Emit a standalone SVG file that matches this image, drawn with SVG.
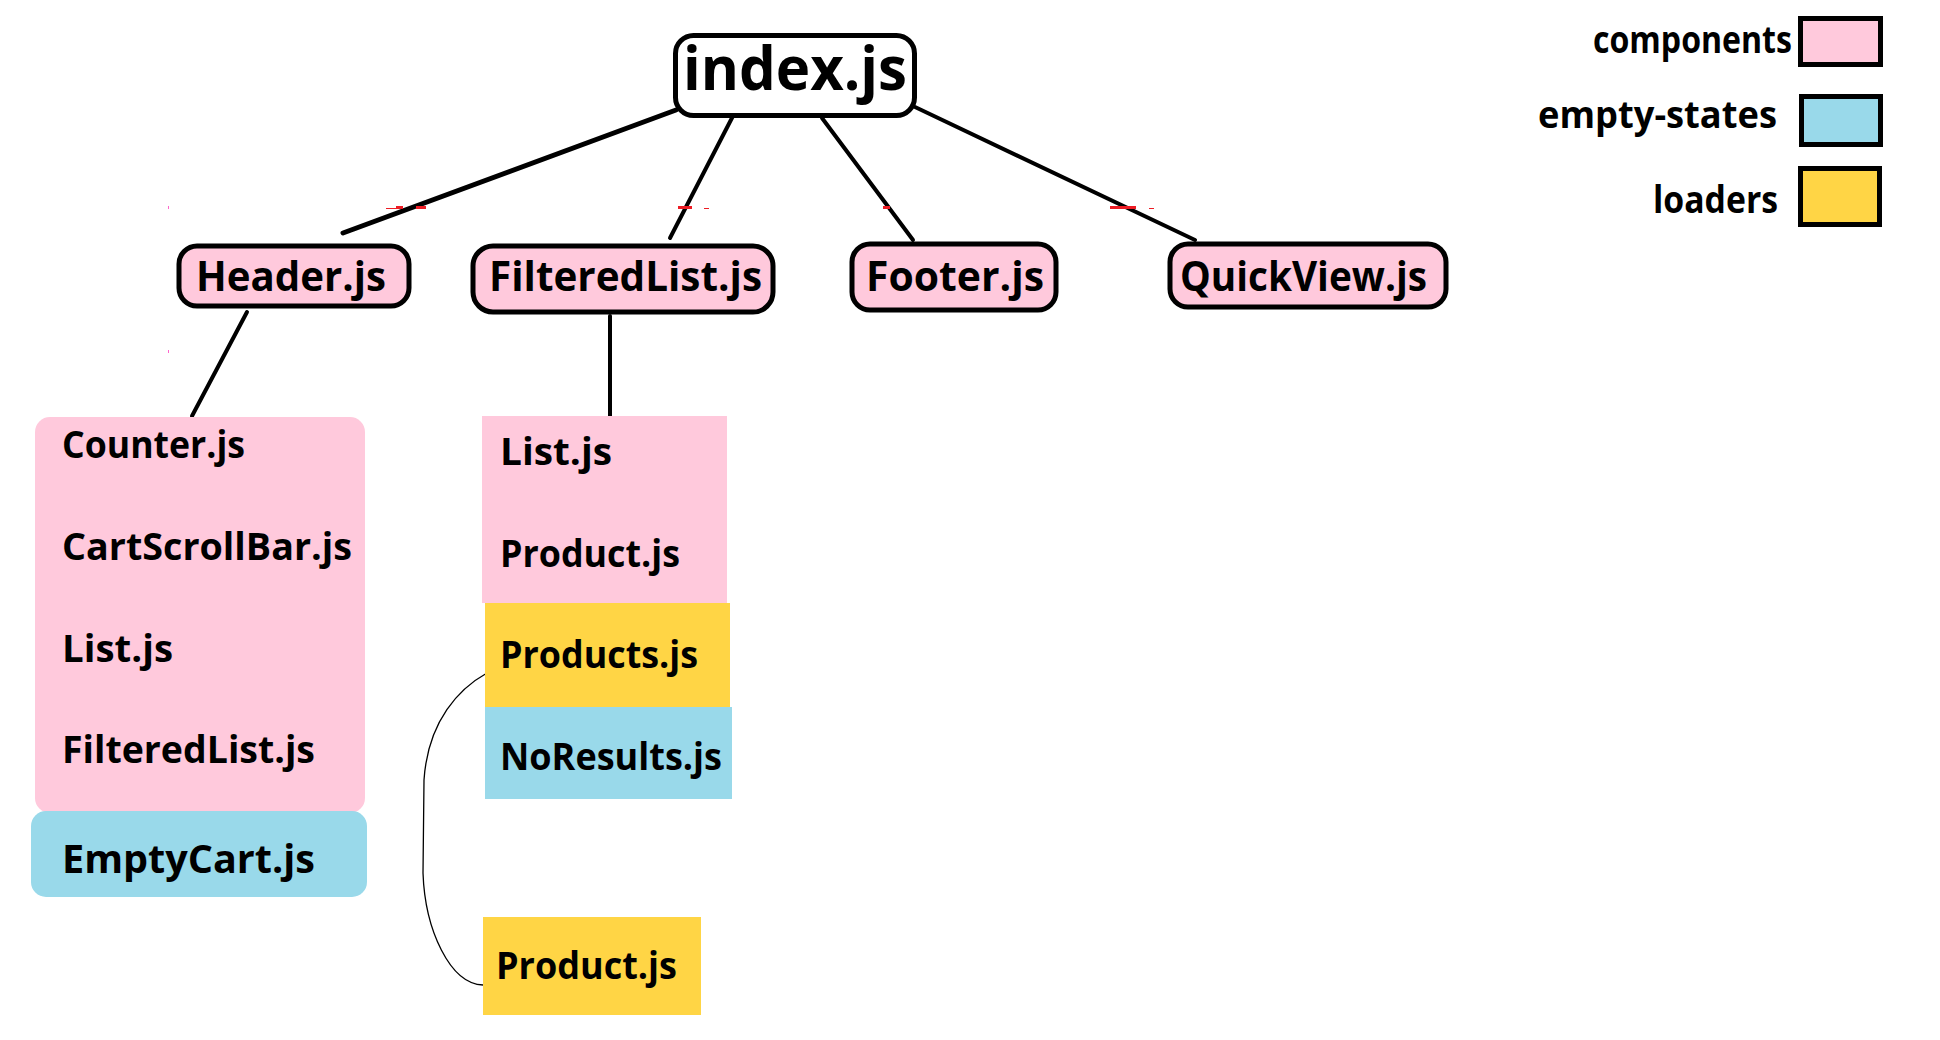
<svg xmlns="http://www.w3.org/2000/svg" width="1940" height="1040" viewBox="0 0 1940 1040">
<style>
  text { font-family: "Open Sans", "Noto Sans", "DejaVu Sans", sans-serif; font-weight: 700; fill: #000; }
  .box { stroke: #000; stroke-width: 5; }
  .pink { fill: #FFC9DC; }
  .blue { fill: #99D9EA; }
  .yellow { fill: #FFD545; }
  .conn { stroke: #000; stroke-width: 4; stroke-linecap: round; fill: none; }
  .thin { stroke: #000; stroke-width: 1.3; fill: none; }
  .t42 { font-size: 41px; }
  .t38 { font-size: 38px; }
  .leg { font-size: 37px; }
  .red { fill: #ED1C24; }
  .mag { fill: #FF66CC; }
</style>
<rect width="1940" height="1040" fill="#fff"/>

<g id="connectors">
  <line class="conn" x1="676" y1="110" x2="343" y2="233" style="stroke-width:5"/>
  <line class="conn" x1="734" y1="114" x2="670" y2="238"/>
  <line class="conn" x1="822" y1="118" x2="913" y2="240"/>
  <line class="conn" x1="915" y1="107" x2="1195" y2="240"/>
  <line class="conn" x1="247" y1="312" x2="192" y2="416"/>
  <line class="conn" x1="610" y1="316" x2="610" y2="418"/>
  <path class="thin" d="M 497 667 L 487 673 C 460 688 428 720 424 780 L 423 873 C 425 930 450 984 483 985"/>
</g>

<g id="index-js">
  <rect class="box" x="675.5" y="35.5" width="239" height="80" rx="18" fill="#fff"/>
  <text x="683" y="90" font-size="60" textLength="224" lengthAdjust="spacingAndGlyphs">index.js</text>
</g>

<g id="header-js">
  <rect class="box pink" x="179" y="246" width="230" height="60" rx="18"/>
  <text class="t42" x="196" y="291" textLength="190" lengthAdjust="spacingAndGlyphs">Header.js</text>
</g>

<g id="filteredlist-js">
  <rect class="box pink" x="473" y="246" width="300" height="66" rx="20"/>
  <text class="t42" x="489" y="291" textLength="273" lengthAdjust="spacingAndGlyphs">FilteredList.js</text>
</g>

<g id="footer-js">
  <rect class="box pink" x="852" y="244" width="204" height="66" rx="18"/>
  <text class="t42" x="866" y="291" textLength="178" lengthAdjust="spacingAndGlyphs">Footer.js</text>
</g>

<g id="quickview-js">
  <rect class="box pink" x="1170" y="244" width="276" height="63" rx="18"/>
  <text class="t42" x="1180" y="291" textLength="247" lengthAdjust="spacingAndGlyphs">QuickView.js</text>
</g>

<g id="header-children">
  <rect class="pink" x="35" y="417" width="330" height="396" rx="15"/>
  <text class="t38" x="62" y="458" textLength="183" lengthAdjust="spacingAndGlyphs">Counter.js</text>
  <text class="t38" x="62" y="560" textLength="290" lengthAdjust="spacingAndGlyphs">CartScrollBar.js</text>
  <text class="t38" x="62" y="662" textLength="111" lengthAdjust="spacingAndGlyphs">List.js</text>
  <text class="t38" x="62" y="763" textLength="253" lengthAdjust="spacingAndGlyphs">FilteredList.js</text>
</g>

<g id="emptycart-js">
  <rect class="blue" x="31" y="811" width="336" height="86" rx="15"/>
  <text x="62" y="873" font-size="40" textLength="253" lengthAdjust="spacingAndGlyphs">EmptyCart.js</text>
</g>

<g id="filteredlist-children">
  <rect class="pink" x="482" y="416" width="245" height="187"/>
  <text class="t38" x="500" y="465" textLength="112" lengthAdjust="spacingAndGlyphs">List.js</text>
  <text class="t38" x="500" y="567" textLength="180" lengthAdjust="spacingAndGlyphs">Product.js</text>
</g>

<g id="products-js">
  <rect class="yellow" x="485" y="603" width="245" height="104"/>
  <text class="t38" x="500" y="668" textLength="198" lengthAdjust="spacingAndGlyphs">Products.js</text>
</g>

<g id="noresults-js">
  <rect class="blue" x="485" y="707" width="247" height="92"/>
  <text class="t38" x="500" y="770" textLength="222" lengthAdjust="spacingAndGlyphs">NoResults.js</text>
</g>

<g id="product-loader-js">
  <rect class="yellow" x="483" y="917" width="218" height="98"/>
  <text class="t38" x="496" y="979" textLength="181" lengthAdjust="spacingAndGlyphs">Product.js</text>
</g>

<g id="legend">
  <text class="leg" x="1593" y="53" textLength="199" lengthAdjust="spacingAndGlyphs">components</text>
  <rect class="box pink" x="1800.5" y="18.5" width="80" height="46"/>
  <text class="leg" x="1538" y="128" textLength="239" lengthAdjust="spacingAndGlyphs">empty-states</text>
  <rect class="box blue" x="1801.5" y="96.5" width="79" height="48"/>
  <text class="leg" x="1653" y="213" textLength="125" lengthAdjust="spacingAndGlyphs">loaders</text>
  <rect class="box yellow" x="1800.5" y="168.5" width="79" height="56"/>
</g>

<g id="marks">
  <rect class="mag" x="168" y="206" width="1" height="3"/>
  <rect class="mag" x="168" y="350" width="1" height="3"/>
  <rect class="red" x="386" y="208" width="12" height="1"/>
  <rect class="red" x="396" y="206" width="7" height="3"/>
  <rect class="red" x="416" y="206" width="10" height="3"/>
  <rect class="red" x="678" y="206" width="14" height="3"/>
  <rect class="red" x="704" y="208" width="5" height="1"/>
  <rect class="red" x="883" y="206" width="7" height="3"/>
  <rect class="red" x="1110" y="206" width="26" height="3"/>
  <rect class="red" x="1149" y="208" width="5" height="1"/>
</g>
</svg>
